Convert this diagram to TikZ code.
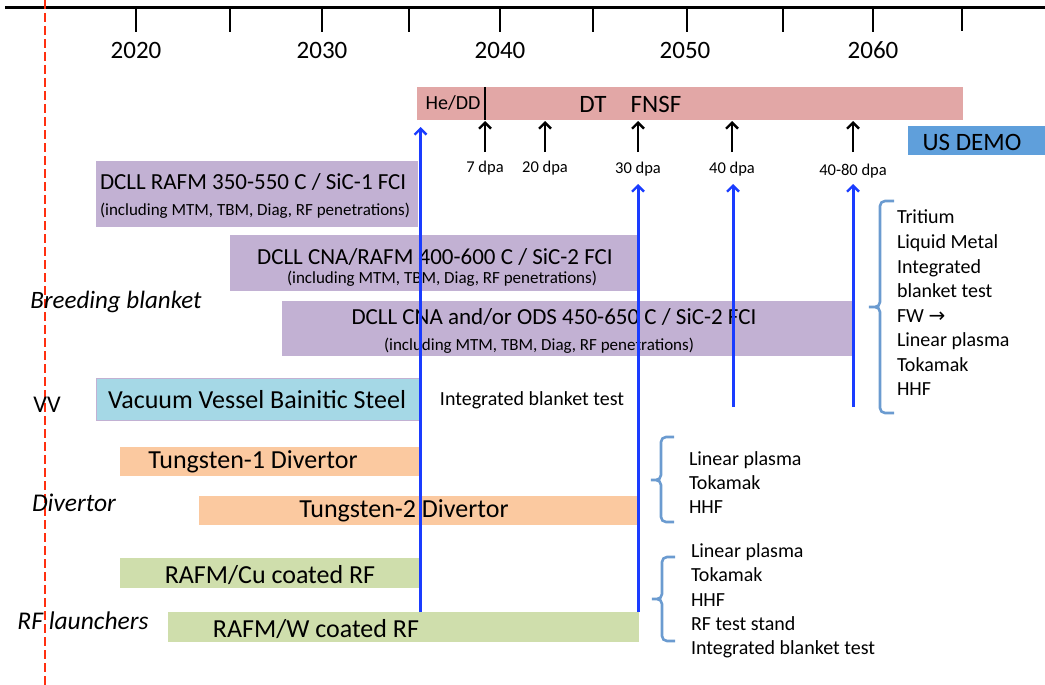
\documentclass[tikz,border=0pt]{standalone}
\usepackage{fontspec}
\setmainfont{Carlito}
\newfontfamily\dejavu{DejaVu Sans}
\usetikzlibrary{arrows.meta}
\definecolor{pinkbar}{HTML}{E2A7A6}
\definecolor{purpbar}{HTML}{C2B1D3}
\definecolor{vvbar}{HTML}{A5D8E6}
\definecolor{orgbar}{HTML}{FBC9A0}
\definecolor{grnbar}{HTML}{CFDEAC}
\definecolor{demobar}{HTML}{5F9FDB}
\definecolor{bracecol}{HTML}{6B9BD0}
\definecolor{arrblue}{HTML}{1A3CFF}
\definecolor{reddash}{HTML}{FF3010}
\tikzset{
  bar/.style={inner sep=0pt, outer sep=0pt, anchor=north west, draw=none},
  txt/.style={inner sep=0pt, outer sep=0pt},
  blkarrow/.style={line width=2.6pt, -{Straight Barb[length=6pt,width=12pt,line width=2.4pt]}},
  bluearrow/.style={line width=3pt, draw=arrblue, -{Straight Barb[length=6pt,width=12pt,line width=2.4pt]}},
  brace/.style={line width=2.6pt, draw=bracecol, rounded corners=5pt},
}
\begin{document}
\begin{tikzpicture}[x=1pt,y=-1pt]
\useasboundingbox (0,0) rectangle (1045,685);
% axis
\coordinate (axl) at (5,8);
\coordinate (axr) at (1045,8);
\draw[line width=3pt] (axl) -- (axr);
\foreach \x in {136,230,322,409,500,593,687,783,873} \draw[line width=2.2pt] (\x,8) -- (\x,32);
\draw[line width=2.2pt] (962,8) -- (962,31);
\node[txt, font=\fontsize{25}{30}\selectfont] (y2020) at (136,50) {2020};
\node[txt, font=\fontsize{25}{30}\selectfont] (y2030) at (322,50) {2030};
\node[txt, font=\fontsize{25}{30}\selectfont] (y2040) at (500,50) {2040};
\node[txt, font=\fontsize{25}{30}\selectfont] (y2050) at (685,50) {2050};
\node[txt, font=\fontsize{25}{30}\selectfont] (y2060) at (873,50) {2060};
% red dashed line
\coordinate (rd1) at (45,0);
\coordinate (rd2) at (45,685);
\draw[reddash, line width=2.8pt, dash pattern=on 9pt off 4pt] (rd1) -- (rd2);
% FNSF bar
\node[bar, fill=pinkbar, minimum width=546pt, minimum height=33pt] (fnsf) at (417,87) {};
\node[txt, font=\fontsize{20}{24}\selectfont] (hedd) at (453,103) {He/DD};
\draw[line width=2.5pt] (485,87) -- (485,120);
\node[txt, font=\fontsize{25}{30}\selectfont] (dt) at (593,104) {DT};
\node[txt, font=\fontsize{25}{30}\selectfont] (fnsftxt) at (656,104) {FNSF};
% dpa arrows
\foreach \n/\x/\lab/\ly in {a/485/7 dpa/168, b/545/20 dpa/168, c/638/30 dpa/169, d/732/40 dpa/169, e/853/40-80 dpa/171}{
  \coordinate (dpab\n) at (\x,152);
  \coordinate (dpat\n) at (\x,121);
  \draw[blkarrow] (dpab\n) -- (dpat\n);
  \node[txt, font=\fontsize{16.5}{20}\selectfont] (dpal\n) at (\x,\ly) {\lab};
}
% US DEMO
\node[bar, fill=demobar, minimum width=137pt, minimum height=29pt] (demo) at (908,126) {};
\node[txt, font=\fontsize{25}{30}\selectfont] (demotxt) at (972,142) {US DEMO};
% breeding blanket bars
\node[bar, fill=purpbar, minimum width=322pt, minimum height=66pt] (bb1) at (96,161) {};
\node[txt, anchor=west, font=\fontsize{23}{28}\selectfont] (bb1t) at (100,182) {DCLL RAFM 350-550 C / SiC-1 FCI};
\node[txt, anchor=west, font=\fontsize{17}{20}\selectfont] (bb1s) at (100,211) {(including MTM, TBM, Diag, RF penetrations)};
\node[bar, fill=purpbar, minimum width=408pt, minimum height=56pt] (bb2) at (230,235) {};
\node[txt, font=\fontsize{23}{28}\selectfont] (bb2t) at (435,257) {DCLL CNA/RAFM 400-600 C / SiC-2 FCI};
\node[txt, font=\fontsize{17}{20}\selectfont] (bb2s) at (442,279) {(including MTM, TBM, Diag, RF penetrations)};
\node[bar, fill=purpbar, minimum width=571pt, minimum height=55pt] (bb3) at (282,301) {};
\node[txt, font=\fontsize{23}{28}\selectfont] (bb3t) at (554,317) {DCLL CNA and/or ODS 450-650 C / SiC-2 FCI};
\node[txt, font=\fontsize{17}{20}\selectfont] (bb3s) at (539,346) {(including MTM, TBM, Diag, RF penetrations)};
\node[txt, font=\fontsize{25}{30}\selectfont\itshape] (bblab) at (116,302) {Breeding blanket};
% VV
\node[bar, fill=vvbar, draw=purpbar, line width=0.8pt, minimum width=324pt, minimum height=42pt] (vv) at (96,378) {};
\node[txt, font=\fontsize{26}{31}\selectfont] (vvt) at (257,400) {Vacuum Vessel Bainitic Steel};
\node[txt, font=\fontsize{24}{29}\selectfont] (vvlab) at (47,405) {VV};
\node[txt, font=\fontsize{20}{24}\selectfont] (ibt) at (532,400) {Integrated blanket test};
% divertor
\node[bar, fill=orgbar, minimum width=300pt, minimum height=29pt] (t1) at (120,447) {};
\node[txt, font=\fontsize{26}{31}\selectfont] (t1t) at (253,462) {Tungsten-1 Divertor};
\node[bar, fill=orgbar, minimum width=439pt, minimum height=29pt] (t2) at (199,496) {};
\node[txt, font=\fontsize{26}{31}\selectfont] (t2t) at (404,511) {Tungsten-2 Divertor};
\node[txt, font=\fontsize{25.5}{30}\selectfont\itshape] (divlab) at (74,503) {Divertor};
% RF
\node[bar, fill=grnbar, minimum width=301pt, minimum height=30pt] (g1) at (120,558) {};
\node[txt, font=\fontsize{26}{31}\selectfont] (g1t) at (270,575) {RAFM/Cu coated RF};
\node[bar, fill=grnbar, minimum width=471pt, minimum height=30pt] (g2) at (168,612) {};
\node[txt, font=\fontsize{26}{31}\selectfont] (g2t) at (316,629) {RAFM/W coated RF};
\node[txt, font=\fontsize{25.5}{30}\selectfont\itshape] (rflab) at (83,621) {RF launchers};
% blue arrows
\coordinate (ba1b) at (420.5,612);  \coordinate (ba1t) at (420.5,127);
\coordinate (ba2b) at (638,612);  \coordinate (ba2t) at (638,184);
\coordinate (ba3b) at (733,407);  \coordinate (ba3t) at (733,184);
\coordinate (ba4b) at (853,407);  \coordinate (ba4t) at (853,184);
\draw[bluearrow] (ba1b) -- (ba1t);
\draw[bluearrow] (ba2b) -- (ba2t);
\draw[bluearrow] (ba3b) -- (ba3t);
\draw[bluearrow] (ba4b) -- (ba4t);
% braces
\draw[brace] (894,201) -- (880,201) -- (880,307) -- (866,307) -- (880,307) -- (880,413) -- (894,413);
\node[txt, anchor=west, align=left, font=\fontsize{20}{24.57}\selectfont] (list1) at (897,303)
  {Tritium\\Liquid Metal\\Integrated\\blanket test\\FW {\dejavu\fontsize{20}{20}\selectfont →}\\Linear plasma\\Tokamak\\HHF};
\draw[brace] (674,437) -- (661,437) -- (661,480) -- (648,480) -- (661,480) -- (661,522) -- (674,522);
\node[txt, anchor=west, align=left, font=\fontsize{20}{24}\selectfont] (list2) at (689,483)
  {Linear plasma\\Tokamak\\HHF};
\draw[brace] (675,557) -- (662,557) -- (662,599) -- (649,599) -- (662,599) -- (662,641) -- (675,641);
\node[txt, anchor=west, align=left, font=\fontsize{20}{24.25}\selectfont] (list3) at (691,601)
  {Linear plasma\\Tokamak\\HHF\\RF test stand\\Integrated blanket test};
\end{tikzpicture}
\end{document}
